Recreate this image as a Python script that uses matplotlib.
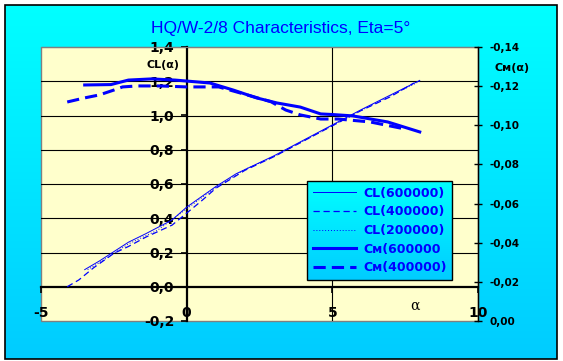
import matplotlib.pyplot as plt
import numpy as np
from matplotlib.lines import Line2D
from matplotlib.ticker import FuncFormatter

# CL curves, left axis
alpha_cl600 = [-3.5, -3.0, -2.0, -1.4, -0.5, 0.0, 1.0, 1.7, 3.0, 4.0, 5.0, 6.0, 7.0, 8.0]
cl600 = [0.10, 0.15, 0.26, 0.31, 0.39, 0.465, 0.585, 0.66, 0.765, 0.855, 0.945, 1.035, 1.12, 1.205]
alpha_cl400 = [-4.1, -3.7, -3.2, -2.5, -2.0, -1.4, -0.5, 0.0, 0.5, 1.0, 2.0, 3.0, 4.0, 5.0, 6.0, 7.0, 7.8]
cl400 = [0.0, 0.04, 0.11, 0.195, 0.235, 0.29, 0.36, 0.43, 0.50, 0.575, 0.68, 0.76, 0.85, 0.94, 1.03, 1.11, 1.19]
alpha_cl200 = [-3.4, -3.0, -2.0, -1.0, 0.0, 1.0, 2.0, 3.0, 4.0, 5.0, 6.0, 7.0, 8.0]
cl200 = [0.10, 0.14, 0.25, 0.33, 0.455, 0.58, 0.685, 0.76, 0.85, 0.94, 1.03, 1.115, 1.20]

# Cm curves, right axis
alpha_cm600 = [-3.5, -2.6, -2.0, -1.2, -0.4, 0.0, 0.8, 1.6, 2.4, 3.1, 3.9, 4.6, 5.0, 5.7, 6.9, 8.0]
cm600 = [-0.1206, -0.1208, -0.1231, -0.1237, -0.1231, -0.1226, -0.1216, -0.1180, -0.1140,
         -0.1114, -0.1093, -0.1058, -0.1055, -0.1048, -0.1017, -0.0966]
alpha_cm400 = [-4.1, -3.5, -3.0, -2.5, -2.2, -1.7, -0.9, 0.0, 1.1, 2.2, 2.9, 3.4, 3.9, 4.6, 5.2, 6.3, 7.5]
cm400 = [-0.1119, -0.1140, -0.1155, -0.1180, -0.1196, -0.1201, -0.1201, -0.1196, -0.1196,
         -0.1150, -0.1120, -0.1078, -0.1053, -0.1032, -0.1032, -0.1017, -0.0981]

labels = ['CL(600000)', 'CL(400000)', 'CL(200000)', 'C\u1d0d(600000', 'C\u1d0d(400000)']

blue = '#0000FF'
bold = dict(family='DejaVu Sans', weight='bold')

fig = plt.figure(figsize=(5.63, 3.61), dpi=100)
fig.patch.set_facecolor('white')

def gradient(top=(0.0, 1.0, 1.0), bottom=(0.0, 0.8, 1.0)):
    t = np.linspace(0, 1, 256)[:, None]
    return (np.array(bottom) * (1 - t) + np.array(top) * t)[:, None, :]

# cyan background with black frame
bg = fig.add_axes([0, 0, 1, 1], zorder=-10)
bg.set_xlim(0, 1)
bg.set_ylim(0, 1)
bg.axis('off')
x0, x1, y0, y1 = 5 / 563, 557 / 563, 1 - 359 / 361, 1 - 5 / 361
bg.imshow(gradient(), extent=[x0, x1, y0, y1], origin='lower', aspect='auto')
bg.add_patch(plt.Rectangle((x0, y0), x1 - x0, y1 - y0, fill=False, ec='black', lw=1.2))

ax = fig.add_axes([41 / 563, 1 - 321 / 361, 437 / 563, 274 / 361])
ax.set_facecolor('#FFFFCC')
ax.patch.set_edgecolor('gray')
ax.patch.set_linewidth(1)
ax.set_xlim(-5, 10)
ax.set_ylim(-0.2, 1.4)

for v in [0.2, 0.4, 0.6, 0.8, 1.0, 1.2]:
    ax.axhline(v, color='black', lw=0.8, zorder=1)
ax.axvline(5, color='black', lw=0.8, zorder=1)

ax.spines['left'].set_position(('data', 0))
ax.spines['bottom'].set_position(('data', 0))
for s in ['left', 'bottom']:
    ax.spines[s].set_linewidth(1.6)
for s in ['top', 'right']:
    ax.spines[s].set_color('gray')
    ax.spines[s].set_linewidth(0.8)

ax.set_xticks([-5, 0, 5, 10])
ax.set_yticks(np.arange(-0.2, 1.41, 0.2))
ax.xaxis.set_major_formatter(FuncFormatter(lambda v, p: f'{int(round(v))}'))
ax.yaxis.set_major_formatter(FuncFormatter(lambda v, p: f'{round(v, 1) + 0.0:.1f}'.replace('.', ',')))
ax.tick_params(axis='x', direction='out', length=4, width=1.2, pad=10, labelsize=10)
ax.tick_params(axis='y', direction='out', length=4, width=1.2, pad=5, labelsize=10)
for lab in ax.get_xticklabels() + ax.get_yticklabels():
    lab.set_fontweight('bold')

ax.plot(alpha_cl600, cl600, color=blue, lw=0.7, ls='-', zorder=3)
ax.plot(alpha_cl400, cl400, color=blue, lw=0.9, ls=(0, (5, 3)), zorder=3)
ax.plot(alpha_cl200, cl200, color=blue, lw=0.7, ls=(0, (1, 2)), zorder=3)

ax2 = ax.twinx()
ax2.set_ylim(0, -0.14)
ax2.set_yticks(np.arange(0, -0.141, -0.02))
ax2.yaxis.set_major_formatter(FuncFormatter(lambda v, p: f'{round(v, 2) + 0.0:.2f}'.replace('.', ',')))
ax2.tick_params(axis='y', direction='inout', length=6, width=1, pad=5, labelsize=7.5)
for lab in ax2.get_yticklabels():
    lab.set_fontweight('bold')
for s in ['left', 'top', 'bottom']:
    ax2.spines[s].set_visible(False)
ax2.spines['right'].set_linewidth(1)

ax2.plot(alpha_cm600, cm600, color=blue, lw=2.2, ls='-')
ax2.plot(alpha_cm400, cm400, color=blue, lw=2.2, ls=(0, (4, 2)))

# titles and axis names
fig.text(281 / 563, 1 - 29 / 361, 'HQ/W-2/8 Characteristics, Eta=5°', color=blue,
         family='Liberation Sans', fontsize=12.5, ha='center', va='center')
fig.text(163 / 563, 1 - 65 / 361, 'CL(α)', fontsize=8, ha='center', va='center', **bold)
fig.text(512 / 563, 1 - 68 / 361, 'C\u1d0d(α)', fontsize=8, ha='center', va='center', **bold)
fig.text(415 / 563, 1 - 306 / 361, 'α', fontsize=10, family='DejaVu Serif', ha='center', va='center')

handles = [Line2D([], [], color=blue, lw=0.7),
           Line2D([], [], color=blue, lw=0.9, ls=(0, (5, 3))),
           Line2D([], [], color=blue, lw=0.7, ls=(0, (1, 2))),
           Line2D([], [], color=blue, lw=2.2),
           Line2D([], [], color=blue, lw=2.2, ls=(0, (4, 2)))]
leg = fig.legend(handles, labels, loc='upper left', bbox_to_anchor=(307 / 563, 1 - 181 / 361),
                 borderaxespad=0, fancybox=False, edgecolor='black', facecolor='none', framealpha=1,
                 handlelength=3.5, handletextpad=0.55, labelspacing=0.45, borderpad=0.45,
                 prop=dict(family='DejaVu Sans', weight='bold', size=9))
leg.get_frame().set_linewidth(1)
for t in leg.get_texts():
    t.set_color(blue)

# gradient behind the legend
fig.canvas.draw()
bb = leg.get_window_extent().transformed(fig.transFigure.inverted())
lax = fig.add_axes(bb.bounds, zorder=1)
lax.imshow(gradient(), extent=[0, 1, 0, 1], origin='lower', aspect='auto')
lax.axis('off')

fig.savefig('out.png', dpi=100)
